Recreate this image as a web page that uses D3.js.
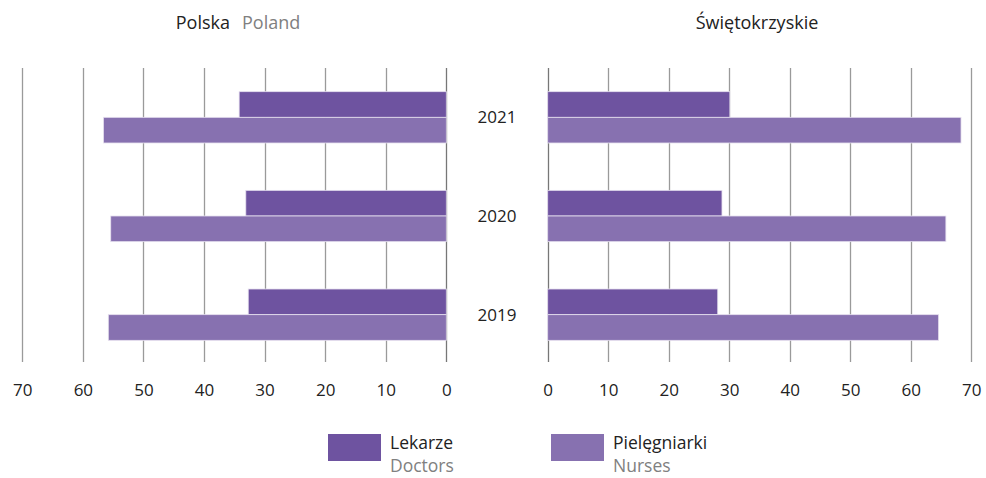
<!DOCTYPE html>
<html>
<head>
<meta charset="utf-8">
<script src="https://cdn.jsdelivr.net/npm/d3@7"></script>
<style>
  html, body { margin: 0; padding: 0; background: #fff; }
  svg { display: block; font-family: "Open Sans", "Noto Sans", sans-serif; }
</style>
</head>
<body>
<svg id="chart" width="986" height="478"></svg>
<script>
// Years shown on the shared category axis (top to bottom)
const years = ["2021", "2020", "2019"];
// Values per year, same order as years
const polandDoctors = [34.2, 33.1, 32.7];
const polandNurses = [56.6, 55.4, 55.8];
const regionDoctors = [30.1, 28.8, 28.1];
const regionNurses = [68.3, 65.8, 64.6];
const tickValues = [0, 10, 20, 30, 40, 50, 60, 70];
const seriesNames = ["Lekarze", "Pielęgniarki"];
const seriesNamesEn = ["Doctors", "Nurses"];
const colors = ["#6e53a0", "#8771b0"];

const svg = d3.select("#chart");

const y = d3.scaleBand().domain(years).range([68, 364]).paddingInner(0.48).paddingOuter(0.24);
const sub = d3.scaleBand().domain([0, 1]).range([0, y.bandwidth()]);

const xLeft = d3.scaleLinear().domain([0, 70]).range([446.3, 22.3]);
const xRight = d3.scaleLinear().domain([0, 70]).range([547.7, 971.3]);

function panel(x, doctors, nurses, mirrored) {
  const g = svg.append("g");
  // vertical gridlines
  g.selectAll("line.grid").data(tickValues).join("line")
    .attr("class", "grid")
    .attr("x1", d => Math.round(x(d)) + 0.5).attr("x2", d => Math.round(x(d)) + 0.5)
    .attr("y1", 68).attr("y2", 362)
    .attr("stroke", d => d === 0 ? "#777" : "#9a9a9a")
    .attr("stroke-width", 1.3);

  const rows = years.map((yr, i) => ({ yr, vals: [doctors[i], nurses[i]] }));
  const rowG = g.selectAll("g.row").data(rows).join("g").attr("class", "row")
    .attr("transform", d => `translate(0,${y(d.yr)})`);
  rowG.selectAll("rect").data(d => d.vals.map((v, k) => ({ v, k }))).join("rect")
    .attr("x", d => mirrored ? x(d.v) : x(0))
    .attr("width", d => Math.abs(x(d.v) - x(0)))
    .attr("y", d => sub(d.k))
    .attr("height", sub.bandwidth())
    .attr("fill", d => colors[d.k])
    .attr("stroke", "#e6e0ef")
    .attr("stroke-width", 0.8);

  // tick labels below
  const axis = d3.axisBottom(x).tickValues(tickValues).tickSize(0).tickPadding(0);
  const ag = g.append("g").attr("transform", "translate(0,384)").call(axis);
  ag.select(".domain").remove();
  ag.selectAll("text").attr("font-size", 17).attr("fill", "#222")
    .attr("font-family", "\"Open Sans\", \"Noto Sans\", sans-serif").attr("dy", "0.71em");
}

panel(xLeft, polandDoctors, polandNurses, true);
panel(xRight, regionDoctors, regionNurses, false);

// Year labels between the panels
svg.append("g").selectAll("text").data(years).join("text")
  .attr("x", 497).attr("y", d => y(d) + y.bandwidth() / 2)
  .attr("dy", "0.36em").attr("text-anchor", "middle")
  .attr("font-size", 17).attr("fill", "#222").text(d => d);

// Panel titles
const t1 = svg.append("text").attr("x", 238).attr("y", 29).attr("text-anchor", "middle").attr("font-size", 18);
t1.append("tspan").attr("fill", "#222").text("Polska");
t1.append("tspan").attr("fill", "#808080").attr("dx", 12).text("Poland");
svg.append("text").attr("x", 757).attr("y", 29).attr("text-anchor", "middle")
  .attr("font-size", 18).attr("fill", "#222").text("Świętokrzyskie");

// Legend
const legX = [328, 551];
const lg = svg.append("g").selectAll("g").data(seriesNames).join("g")
  .attr("transform", (d, i) => `translate(${legX[i]},434)`);
lg.append("rect").attr("width", 53).attr("height", 27).attr("fill", (d, i) => colors[i]);
lg.append("text").attr("x", 62).attr("y", 15).attr("font-size", 17.5).attr("fill", "#222").text(d => d);
lg.append("text").attr("x", 62).attr("y", 38).attr("font-size", 17.5).attr("fill", "#808080")
  .text((d, i) => seriesNamesEn[i]);
</script>
</body>
</html>
